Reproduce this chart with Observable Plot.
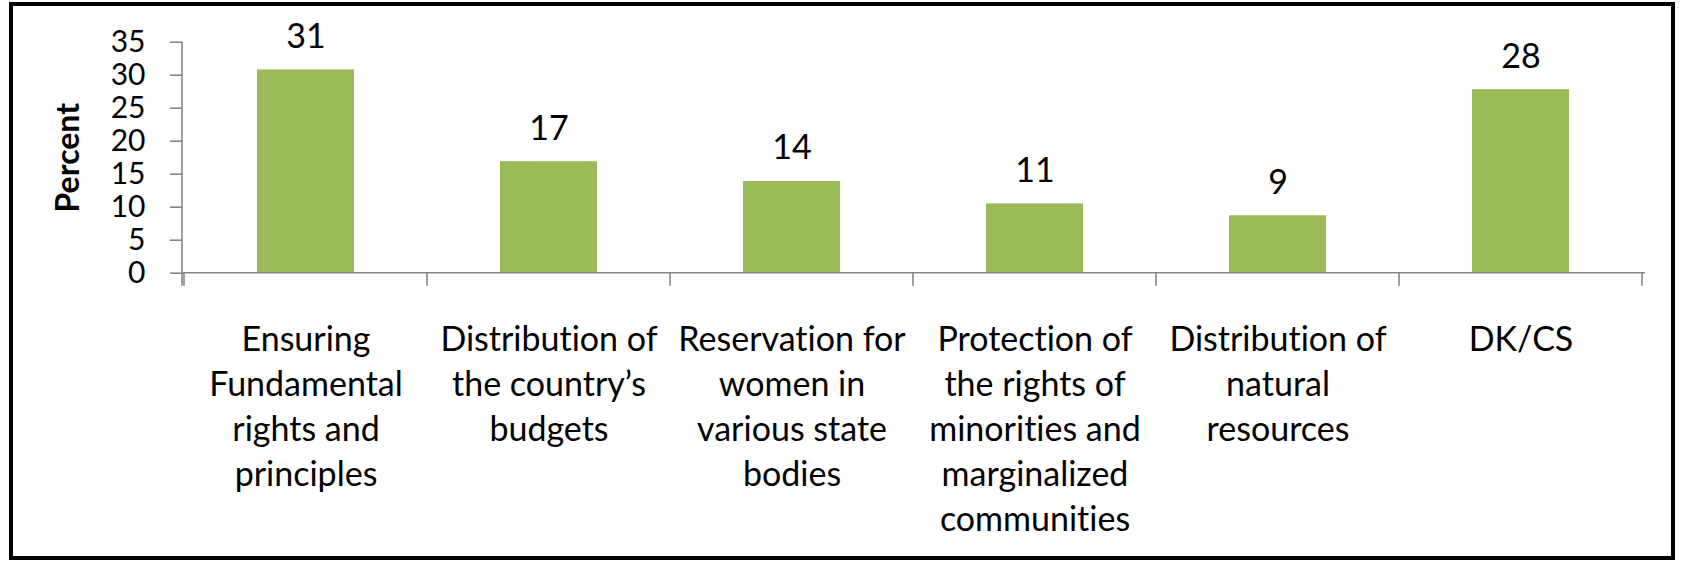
<!DOCTYPE html>
<html>
<head>
<meta charset="utf-8">
<script src="https://cdn.jsdelivr.net/npm/d3@7"></script>
<script src="https://cdn.jsdelivr.net/npm/@observablehq/plot@0.6"></script>
<style>
  html, body { margin: 0; padding: 0; background: #fff; }
  body { width: 1681px; height: 565px; position: relative; overflow: hidden; font-family: Lato, "Noto Sans", sans-serif; }
  #chart { position: absolute; left: 0; top: 0; }
  #chart svg text { font-variant-ligatures: none; font-feature-settings: "liga" 0, "clig" 0, "dlig" 0; }
  #frame { position: absolute; left: 9px; top: 2px; width: 1666px; height: 558px; box-sizing: border-box; border: 4.5px solid #000; pointer-events: none; }
</style>
</head>
<body>
<div id="chart"></div>
<div id="frame"></div>
<script>
// ---- data ----
const categories = [
  "Ensuring Fundamental rights and principles",
  "Distribution of the country’s budgets",
  "Reservation for women in various state bodies",
  "Protection of the rights of minorities and marginalized communities",
  "Distribution of natural resources",
  "DK/CS"
];
const tickLabels = [
  "Ensuring\nFundamental\nrights and\nprinciples",
  "Distribution of\nthe country’s\nbudgets",
  "Reservation for\nwomen in\nvarious state\nbodies",
  "Protection of\nthe rights of\nminorities and\nmarginalized\ncommunities",
  "Distribution of\nnatural\nresources",
  "DK/CS"
];
const values = [30.8, 16.9, 13.9, 10.5, 8.7, 27.8];
const valueLabels = ["31", "17", "14", "11", "9", "28"];
const yTicks = [0, 5, 10, 15, 20, 25, 30, 35];
const yLabel = "Percent";

const data = categories.map((c, i) => ({cat: c, value: values[i], label: valueLabels[i], tick: tickLabels[i]}));
const tickMap = new Map(data.map(d => [d.cat, d.tick]));

const W = 1681, H = 565;
const PI = 0.6, PO = 0.3;
const axisColor = "#868686";

function axisLines(index, scales, values_, dimensions) {
  const x = scales.x, y = scales.y;
  const {width, marginLeft, marginRight} = dimensions;
  const n = categories.length;
  const step = typeof x.step === "function" ? x.step() : (width - marginLeft - marginRight) / (n - PI + 2 * PO);
  const bw = typeof x.bandwidth === "function" ? x.bandwidth() : step * (1 - PI);
  const gap = (step - bw) / 2;
  const y0 = y(0), yTop = y(yTicks[yTicks.length - 1]);
  const tick = 13;
  const g = d3.create("svg:g").attr("stroke", axisColor).attr("stroke-width", 1.6).attr("fill", "none");
  // y axis line
  g.append("line").attr("x1", marginLeft).attr("x2", marginLeft).attr("y1", yTop).attr("y2", y0 + tick);
  // x axis line
  g.append("line").attr("x1", marginLeft).attr("x2", width - marginRight).attr("y1", y0).attr("y2", y0);
  // category boundary ticks
  const bounds = categories.map(c => x(c) - gap);
  bounds.push(x(categories[n - 1]) + bw + gap);
  for (const b of bounds) {
    g.append("line").attr("x1", b).attr("x2", b).attr("y1", y0).attr("y2", y0 + tick);
  }
  return g.node();
}

const chart = Plot.plot({
  width: W,
  height: H,
  marginLeft: 182,
  marginRight: 36,
  marginTop: 41.7,
  marginBottom: 292.3,
  style: {fontFamily: "Lato, 'Noto Sans', sans-serif", color: "#000", background: "transparent"},
  x: {domain: categories, paddingInner: PI, paddingOuter: PO, label: null},
  y: {domain: [0, 35], label: null},
  marks: [
    Plot.barY(data, {x: "cat", y: "value", fill: "#9BBB59"}),
    axisLines,
    Plot.axisY({ticks: yTicks, tickSize: 12, tickPadding: 25, fontSize: 30, stroke: axisColor, strokeWidth: 1.6, label: null, fill: "#000"}),
    Plot.axisX({tickSize: 0, tickPadding: 46, fontSize: 34, lineHeight: 1.32, tickFormat: d => tickMap.get(d), label: null, fill: "#000"}),
    Plot.text(data, {x: "cat", y: "value", text: "label", dy: -22, lineAnchor: "bottom", fontSize: 34, fill: "#000"}),
    Plot.text([yLabel], {frameAnchor: "left", text: d => d, rotate: -90, dx: -114, fontSize: 32, fontWeight: "bold", fill: "#000", textAnchor: "middle", lineAnchor: "middle"})
  ]
});
document.getElementById("chart").appendChild(chart);
</script>
</body>
</html>
